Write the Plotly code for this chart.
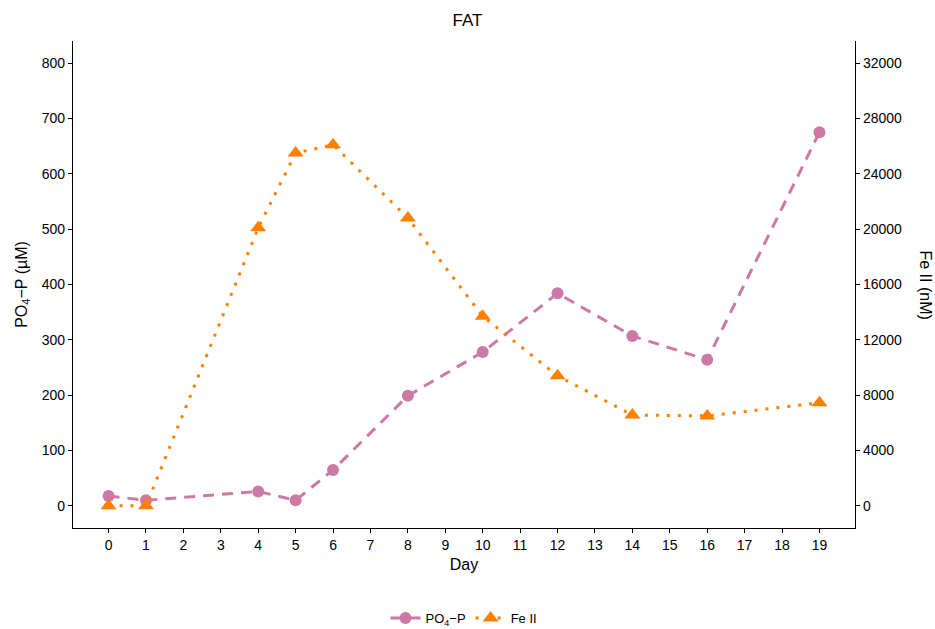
import plotly.graph_objects as go

days_po4 = [0, 1, 4, 5, 6, 8, 10, 12, 14, 16, 19]
po4 = [18, 10, 26, 10, 65, 199, 278, 384, 307, 264, 675]

days_fe = [0, 1, 4, 5, 6, 8, 10, 12, 14, 16, 19]
fe = [0, 0, 20100, 25500, 26100, 20800, 13700, 9400, 6570, 6500, 7450]

x_ticks = list(range(0, 20))
left_ticks = list(range(0, 801, 100))
right_ticks = list(range(0, 32001, 4000))

PINK = "#CC79A7"
ORANGE = "#FF7F00"
FONT = "Liberation Sans, Arial, sans-serif"

fig = go.Figure()
fig.add_trace(go.Scatter(
    x=days_po4, y=po4, name="PO<sub>4</sub>\u2212P", mode="lines+markers",
    line=dict(color=PINK, width=3, dash="11px,8px"),
    marker=dict(color=PINK, size=12, symbol="circle"),
    yaxis="y"))
fig.add_trace(go.Scatter(
    x=days_fe, y=fe, name="Fe II", mode="lines+markers",
    line=dict(color=ORANGE, width=3, dash="3px,8px"),
    marker=dict(color=ORANGE, size=14, symbol="triangle-up"),
    yaxis="y2"))

axis_common = dict(showline=True, linecolor="black", linewidth=1.2, ticks="outside",
                   ticklen=4, tickcolor="black", tickwidth=1.2, showgrid=False, zeroline=False,
                   tickfont=dict(family=FONT, size=14, color="black"))

fig.update_layout(
    width=935, height=629,
    paper_bgcolor="white", plot_bgcolor="white",
    margin=dict(l=73, r=80, t=41, b=101),
    font=dict(family=FONT, color="black"),
    title=dict(text="FAT", x=0.5, xanchor="center", y=1 - 20 / 629, yanchor="middle",
               font=dict(family=FONT, size=17, color="black")),
    xaxis=dict(range=[-0.95, 19.95], tickvals=x_ticks,
               title=dict(text="Day", font=dict(family=FONT, size=16, color="black"), standoff=6),
               **axis_common),
    yaxis=dict(range=[-40, 840], tickvals=left_ticks,
               title=dict(text="PO<sub>4</sub>\u2212P (\u00b5M)", font=dict(family=FONT, size=16, color="black"), standoff=10),
               **axis_common),
    yaxis2=dict(range=[-1600, 33600], tickvals=right_ticks, tickformat="d", overlaying="y", side="right",
                **axis_common),
    legend=dict(orientation="h", x=0.5, xanchor="center", yref="container", y=1 - 618 / 629,
                yanchor="middle",
                font=dict(family=FONT, size=13, color="black"), itemwidth=30),
    annotations=[dict(text="Fe II (nM)", textangle=90, xref="paper", yref="paper",
                      x=1 + 70 / 782, y=0.5, xanchor="center", yanchor="middle", showarrow=False,
                      font=dict(family=FONT, size=16, color="black"))],
)

fig.write_html("out.html", config={"displayModeBar": False},
               post_script="document.body.style.margin='0';")
